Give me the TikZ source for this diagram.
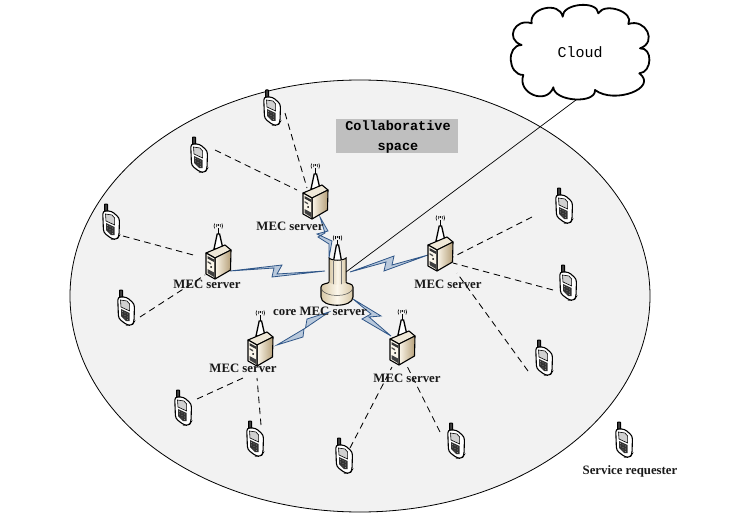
\documentclass[tikz,border=0pt]{standalone}
\usepackage{fontspec}
\setmainfont{Liberation Serif}
\newfontfamily\monof{Liberation Mono}
\definecolor{ellfill}{HTML}{F2F2F2}
\definecolor{boxgrey}{HTML}{BFBFBF}
\definecolor{boltfill}{HTML}{B9C9DC}
\definecolor{boltline}{HTML}{2F5688}
\definecolor{creamL}{HTML}{FBF6EA}
\definecolor{creamD}{HTML}{B59F78}
\definecolor{creamM}{HTML}{D8C8A6}
\definecolor{creamT}{HTML}{EFE8D8}
\tikzset{
  pt/.style={inner sep=0pt,minimum size=0pt,outer sep=0pt},
  lbl/.style={font=\fontsize{12.8}{14}\selectfont\bfseries,inner sep=0pt,text=black!90},
  dashlink/.style={draw=black,line width=0.85pt,dash pattern=on 6.5pt off 4.5pt},
  boltshape/.style={draw=boltline,fill=boltfill,line width=0.8pt,line join=miter},
  antennaW/.pic={
    \draw[line width=0.6pt] (-2,-2) arc[start angle=150,end angle=210,radius=3pt]
      (2,-2) arc[start angle=30,end angle=-30,radius=3pt]
      (-3.6,-2.5) arc[start angle=150,end angle=210,radius=5pt]
      (3.6,-2.5) arc[start angle=30,end angle=-30,radius=5pt];
    \fill (0,-1) circle[radius=1pt];
  },
  phone/.pic={
    \draw[line width=1pt,fill=black!75,rounded corners=0.5pt] (-6.3,-18) -- (-3.5,-18) -- (-3.2,-9) -- (-6.5,-9) -- cycle;
    \draw[line width=1.1pt,fill=white,rounded corners=3pt]
      (-8.3,-11) -- (0.5,-11) -- (8.5,-4) -- (8,14) -- (6,17.5) -- (1,17) -- (-7.5,10.5) -- cycle;
    \draw[line width=0.6pt,fill=black!18] (-5.5,-8) -- (1,-7) -- (3.6,-4) -- (3.6,3) -- (-5,-1) -- cycle;
    \fill[black!80] (-5,1) -- (3.6,5) -- (3.6,13) -- (0,13) -- (-5,8) -- cycle;
    \foreach \a/\b in {-3.5/3.5,-1/4.8,1.5/6,-3.5/6,-1/7.5,1.5/9,-1/10,1.5/11.5}
      \fill[white!75!black] (\a,\b) circle[radius=0.45pt];
  },
  serverpic/.pic={
    \draw[line width=1.3pt,fill=white] (-4,-12) -- (5,-12) -- (1.6,-27) -- (-0.8,-27) -- cycle;
    \draw[line width=1.5pt] (0.3,-27) -- (0.3,-33);
    \pic at (0.3,-35) {antennaW};
    \draw[line width=1.1pt,line join=round,fill=creamT] (-12,-8) -- (7,-16) -- (13,-11) -- (-3,-3) -- cycle;
    \path[left color=creamL,right color=creamD] (-3,-3) -- (13,-11) -- (12.5,9) -- (-3,18) -- cycle;
    \draw[line width=1.1pt,line join=round] (-3,-3) -- (13,-11) -- (12.5,9) -- (-3,18) -- cycle;
    \draw[line width=1.1pt,line join=round,fill=creamL] (-12,-8) -- (-3,-3) -- (-3,18) -- (-12,13) -- cycle;
    \fill[black!80] (-10.5,-5) -- (-4,-1.5) -- (-4,1) -- (-10.5,-2.5) -- cycle;
    \fill[black!70] (-10.5,0) -- (-7,2) -- (-7,3.5) -- (-10.5,1.5) -- cycle;
    \fill (-7,6) circle[radius=1pt];
    \fill[black!75] (-10.5,8) -- (-4,11.5) -- (-4,16) -- (-10.5,12) -- cycle;
  },
  towerpic/.pic={
    \draw[line width=1.3pt,fill=white] (-3.5,-19) -- (4.5,-19) -- (1.6,-35) -- (-0.6,-35) -- cycle;
    \draw[line width=1.5pt] (0.5,-35) -- (0.5,-40);
    \pic at (0.5,-42) {antennaW};
    \path[left color=creamM,right color=creamM,middle color=creamL]
      (-8,-22) .. controls (-5,-19) and (6,-19) .. (9,-22) -- (9,6) -- (-8,6) -- cycle;
    \draw[line width=1pt] (-8,6) -- (-8,-22) .. controls (-5,-19) and (6,-19) .. (9,-22) -- (9,6);
    \draw[line width=0.35pt,black!55] (-3.5,-19.5) -- (-3.5,5) (4.5,-19.5) -- (4.5,5);
    \path[left color=creamM,right color=creamM,middle color=creamL]
      (-16,6) .. controls (-16,3) and (-8,4) .. (-8,1) .. controls (-8,6) and (9,6) .. (9,1)
      .. controls (9,4) and (16,3) .. (16,6) -- (16,17) .. controls (16,28) and (-16,28) .. (-16,17) -- cycle;
    \draw[line width=1.1pt,line join=round]
      (-8,2) .. controls (-8,4) and (-16,3) .. (-16,7) -- (-16,17) .. controls (-16,28) and (16,28) .. (16,17) -- (16,7) .. controls (16,3) and (9,4) .. (9,2);
    \draw[line width=0.5pt,black!70] (-16,8) .. controls (-14,18) and (14,18) .. (16,8);
  }
}
\begin{document}
\begin{tikzpicture}[x=1pt,y=-1pt]
\useasboundingbox (0,0) rectangle (737,519);
\fill[white] (0,0) rectangle (737,519);
\draw[fill=ellfill,line width=0.8pt] (360,296) ellipse [x radius=290pt,y radius=216pt];
% box
\fill[boxgrey] (336,119) rectangle (458,153);
\node[pt] (collab) at (398,137) {};
% anchor nodes
\foreach \n/\x/\y in {p1/272/108,p2/199/155,p3/111/222,p4/126/308,p5/183/408,p6/255/439,p7/344/456,p8/456/441,p9/544/358,p10/568/283,p11/564/206,p12/624/440}
  {\node[pt] (\n) at (\x,\y) {};}
\foreach \n/\x/\y in {s1/315/201,s2/218/261,s3/440/253,s4/260/348,s5/402/347}
  {\node[pt] (\n) at (\x,\y) {};}
\node[pt] (tower) at (337,280) {};
\node[pt] (cloud) at (580,52) {};
% cloud link
\draw[line width=0.7pt] ([shift={(9,-8)}]tower.center) -- ([shift={(0,45)}]cloud.center);
% cloud
\begin{scope}[shift={(490,0)},scale=1/3]
\draw[fill=white,line width=1.8pt,line join=round]
 (125,70) .. controls (116,23) and (209,3) .. (218,50)
 .. controls (216,10) and (323,0) .. (325,40)
 .. controls (345,5) and (435,37) .. (415,72)
 .. controls (468,54) and (503,127) .. (450,145)
 .. controls (489,142) and (487,217) .. (448,220)
 .. controls (506,264) and (373,314) .. (315,270)
 .. controls (318,313) and (193,305) .. (190,262)
 .. controls (170,317) and (80,280) .. (100,225)
 .. controls (53,225) and (48,135) .. (95,135)
 .. controls (44,118) and (74,53) .. (125,70) -- cycle;
\end{scope}
% dashed links
\draw[dashlink] ([shift={(13,5)}]p1.center) -- ([shift={(-8,-13)}]s1.center);
\draw[dashlink] ([shift={(16,-5)}]p2.center) -- ([shift={(-18,-11)}]s1.center);
\draw[dashlink] ([shift={(12,14)}]p3.center) -- ([shift={(-21,-5)}]s2.center);
\draw[dashlink] ([shift={(14,9)}]p4.center) -- ([shift={(-13,14)}]s2.center);
\draw[dashlink] ([shift={(14,-9)}]p5.center) -- ([shift={(-17,30)}]s4.center);
\draw[dashlink] ([shift={(6,-14)}]p6.center) -- ([shift={(-3,30)}]s4.center);
\draw[dashlink] ([shift={(6,-8)}]p7.center) -- ([shift={(-10,20)}]s5.center);
\draw[dashlink] ([shift={(-16,-9)}]p8.center) -- ([shift={(5,19)}]s5.center);
\draw[dashlink] ([shift={(-16,13)}]p9.center) -- ([shift={(17,20)}]s3.center);
\draw[dashlink] ([shift={(-15,7)}]p10.center) -- ([shift={(13,10)}]s3.center);
\draw[dashlink] ([shift={(-32,11)}]p11.center) -- ([shift={(13,4)}]s3.center);
% bolts
\draw[boltshape] ([shift={(12,10)}]s2.center) -- (282,265) -- (277,274) -- ([shift={(-12,-9)}]tower.center) -- (272,277) -- (274,268) -- cycle;
\draw[boltshape] ([shift={(5,16)}]s1.center) -- (328,231) -- (317,234) -- (332,241) -- ([shift={(-8,-22)}]tower.center) -- (329,244) -- (318,237) -- (325,233) -- cycle;
\draw[boltshape] ([shift={(13,-8)}]tower.center) -- (394,256) -- (392,265) -- ([shift={(-12,2)}]s3.center) -- (384,271) -- (386,262) -- cycle;
\draw[boltshape] ([shift={(16,19)}]tower.center) -- (381,316) -- (369,317) -- ([shift={(-11,-11)}]s5.center) -- (362,319) -- (371,314) -- cycle;
\draw[boltshape] ([shift={(-8,32)}]tower.center) -- (307,319) -- (305.5,328) -- ([shift={(17,-3)}]s4.center) -- (303,337) -- (304,329) -- cycle;
% devices
\foreach \n in {p1,p2,p3,p4,p5,p6,p7,p8,p9,p10,p11,p12} {\pic at (\n) {phone};}
\foreach \n in {s1,s2,s3,s4,s5} {\pic at (\n) {serverpic};}
\pic at (tower) {towerpic};
% labels
\node[lbl] (l1) at (290,226) {MEC server};
\node[lbl] (l2) at (207,284) {MEC server};
\node[lbl] (l3) at (448,284) {MEC server};
\node[lbl] (l4) at (243,368) {MEC server};
\node[lbl] (l5) at (407,378) {MEC server};
\node[lbl] (lc) at (320,311) {core MEC server};
\node[lbl] (lr) at (630,471) {Service requester};
\node[inner sep=0pt,align=center,font=\monof\fontsize{13.5}{20}\selectfont\bfseries] (ct) at (collab) {Collaborative\\space};
\node[inner sep=0pt,font=\monof\fontsize{15}{16}\selectfont] (cl) at (cloud) {Cloud};
\end{tikzpicture}
\end{document}
